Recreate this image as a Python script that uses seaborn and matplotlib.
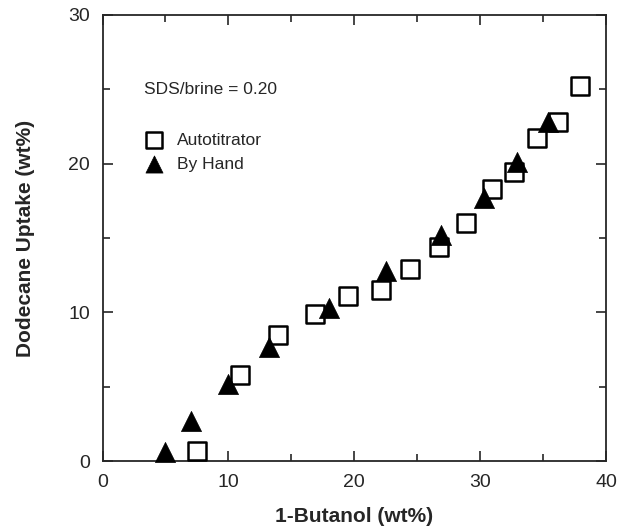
import pandas as pd
import seaborn as sns
import matplotlib.pyplot as plt
from matplotlib.ticker import MultipleLocator

# Autotitrator data
auto_butanol = [7.5, 10.9, 13.9, 16.9, 19.5, 22.1, 24.4, 26.7, 28.9, 30.9, 32.7, 34.5, 36.2, 37.9]
auto_uptake = [0.7, 5.8, 8.5, 9.9, 11.1, 11.5, 12.9, 14.4, 16.0, 18.3, 19.4, 21.7, 22.8, 25.2]

# By hand data
hand_butanol = [5.0, 7.0, 10.0, 13.2, 18.0, 22.5, 26.9, 30.3, 32.9, 35.4]
hand_uptake = [0.6, 2.7, 5.2, 7.7, 10.3, 12.8, 15.2, 17.7, 20.1, 22.8]

df = pd.concat([
  pd.DataFrame({'butanol': auto_butanol, 'uptake': auto_uptake, 'method': 'Autotitrator'}),
  pd.DataFrame({'butanol': hand_butanol, 'uptake': hand_uptake, 'method': 'By Hand'}),
])

sns.set_style('ticks')
plt.rcParams['font.family'] = ['Liberation Sans', 'DejaVu Sans']

fig = plt.figure(figsize=(6.25, 5.27), dpi=100)
ax = fig.add_axes([0.164, 0.125, 0.806, 0.847])

sns.scatterplot(data=df[df.method == 'Autotitrator'], x='butanol', y='uptake', marker='s',
                s=170, facecolor='white', edgecolor='black', linewidth=1.8,
                label='Autotitrator', ax=ax, clip_on=False, zorder=3)
sns.scatterplot(data=df[df.method == 'By Hand'], x='butanol', y='uptake', marker='^',
                s=210, color='black', edgecolor='black', linewidth=0.5,
                label='By Hand', ax=ax, clip_on=False, zorder=4)

ax.set_xlim(0, 40)
ax.set_ylim(0, 30)
ax.xaxis.set_major_locator(MultipleLocator(10))
ax.yaxis.set_major_locator(MultipleLocator(10))
ax.xaxis.set_minor_locator(MultipleLocator(5))
ax.yaxis.set_minor_locator(MultipleLocator(5))
ax.tick_params(which='both', direction='in', top=True, right=True, width=1.2)
ax.tick_params(which='major', length=7, labelsize=14)
ax.tick_params(which='minor', length=5)
ax.tick_params(axis='y', which='major', pad=9)
ax.tick_params(axis='x', which='major', pad=9)
for sp in ax.spines.values():
  sp.set_linewidth(1.3)

ax.set_xlabel('1-Butanol (wt%)', fontsize=15, fontweight='bold', labelpad=12)
ax.set_ylabel('Dodecane Uptake (wt%)', fontsize=15, fontweight='bold', labelpad=24)

ax.text(3.3, 25.0, 'SDS/brine = 0.20', fontsize=12.5, va='center', ha='left')
ax.legend(loc='upper left', bbox_to_anchor=(0.05, 0.755), frameon=False, fontsize=12.5,
          handletextpad=0.35, labelspacing=0.5, markerscale=0.85, borderpad=0)

plt.savefig('out.png', dpi=100)
